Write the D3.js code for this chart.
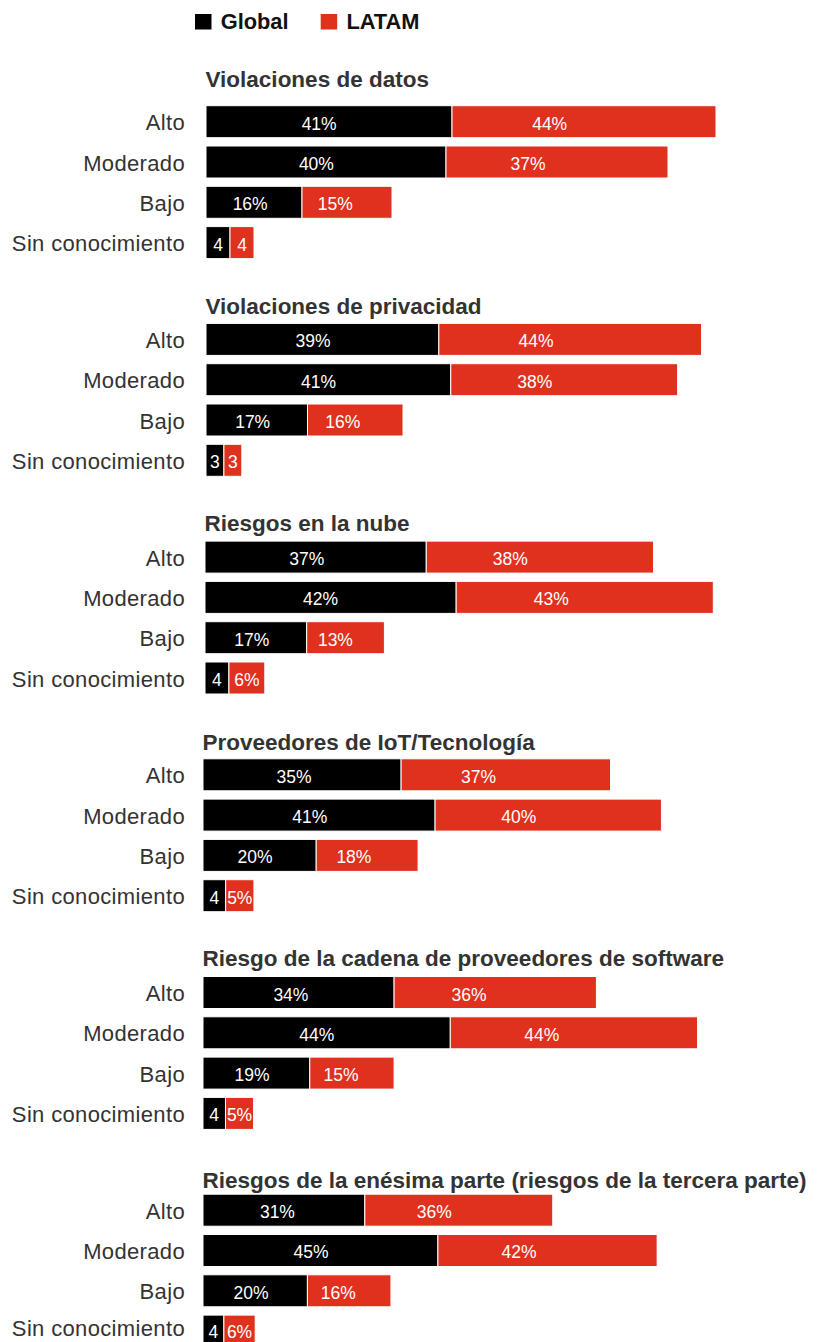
<!DOCTYPE html>
<html>
<head>
<meta charset="utf-8">
<script src="https://cdn.jsdelivr.net/npm/d3@7"></script>
<style>
  html, body { margin: 0; padding: 0; background: #fff; }
  svg { display: block; font-family: "Liberation Sans", Arial, Helvetica, sans-serif; }
</style>
</head>
<body>
<svg id="chart" width="820" height="1342"></svg>
<script>
// ---------- data ----------
const panels = [
  "Violaciones de datos",
  "Violaciones de privacidad",
  "Riesgos en la nube",
  "Proveedores de IoT/Tecnología",
  "Riesgo de la cadena de proveedores de software",
  "Riesgos de la enésima parte (riesgos de la tercera parte)"
];
const levels = ["Alto", "Moderado", "Bajo", "Sin conocimiento"];
const series = ["Global", "LATAM"];
const globalValues = [
  [41, 40, 16, 4],
  [39, 41, 17, 3],
  [37, 42, 17, 4],
  [35, 41, 20, 4],
  [34, 44, 19, 4],
  [31, 45, 20, 4]
];
const latamValues = [
  [44, 37, 15, 4],
  [44, 38, 16, 3],
  [38, 43, 13, 6],
  [37, 40, 18, 5],
  [36, 44, 15, 5],
  [36, 42, 16, 6]
];

// ---------- layout (per-panel scale settings) ----------
const W = 820, H = 1342;
const panelX0 = [206, 206, 205, 203, 203, 203];
const pxPerPct = [6.0, 5.97, 5.98, 5.66, 5.62, 5.22];
const titleGap = [18.7, 9.6, 10.3, 9.3, 11, 6.6];
const colors = { Global: "#000000", LATAM: "#E0311F" };

const svg = d3.select("#chart");

// legend
const legend = svg.append("g");
const legendItems = [{ name: "Global", x: 195 }, { name: "LATAM", x: 320.7 }];
legendItems.forEach(d => {
  legend.append("rect").attr("x", d.x).attr("y", 14).attr("width", 16.5).attr("height", 15.5)
    .attr("fill", colors[d.name]);
  legend.append("text").attr("x", d.x + 25.7).attr("y", 29.3)
    .attr("font-size", 21.8).attr("font-weight", "bold").attr("fill", "#111")
    .text(d.name);
});

// panel vertical placement
const panelY = d3.scaleLinear().domain([0, 1]).range([105.7, 105.7 + 217.7]);
const pitch = 40.3, barH = 32;
const yBand = d3.scaleBand().domain(levels)
  .range([0, (levels.length - 1) * pitch + barH])
  .paddingInner(1 - barH / pitch).paddingOuter(0);

panels.forEach((title, i) => {
  const top = panelY(i);
  const x = d3.scaleLinear().domain([0, 100]).range([panelX0[i], panelX0[i] + pxPerPct[i] * 100]);
  const g = svg.append("g").attr("transform", `translate(0,${top})`);

  g.append("text").attr("x", panelX0[i] - 0.5).attr("y", -titleGap[i])
    .attr("font-size", 22.5).attr("font-weight", "bold").attr("fill", "#333")
    .text(title);

  levels.forEach((lvl, j) => {
    const yy = yBand(lvl);
    const cy = yy + yBand.bandwidth() / 2;
    // keep the label baseline inside the canvas
    const labelBase = Math.min(cy + 8.6, H - 6 - top);
    g.append("text").attr("x", 185).attr("y", labelBase)
      .attr("text-anchor", "end").attr("font-size", 22).attr("letter-spacing", 0.35)
      .attr("fill", "#333").text(lvl);

    const vals = [globalValues[i][j], latamValues[i][j]];
    let cum = 0;
    vals.forEach((v, k) => {
      const x0 = x(cum), x1 = x(cum + v);
      cum += v;
      const w = x1 - x0;
      g.append("rect").attr("x", x0).attr("y", yy).attr("width", w).attr("height", barH)
        .attr("fill", colors[series[k]]).attr("stroke", "#fff").attr("stroke-width", 1);
      const isSmall = w < 60;
      const frac = isSmall ? 0.5 : (k === 0 ? 0.46 : 0.37);
      const showPct = !(lvl === "Sin conocimiento" && v < 5);
      g.append("text").attr("x", x0 + w * frac).attr("y", Math.min(cy + 8, H - 4 - top))
        .attr("text-anchor", "middle").attr("font-size", 17.5).attr("fill", "#fff")
        .text(showPct ? v + "%" : v);
    });
  });
});
</script>
</body>
</html>
